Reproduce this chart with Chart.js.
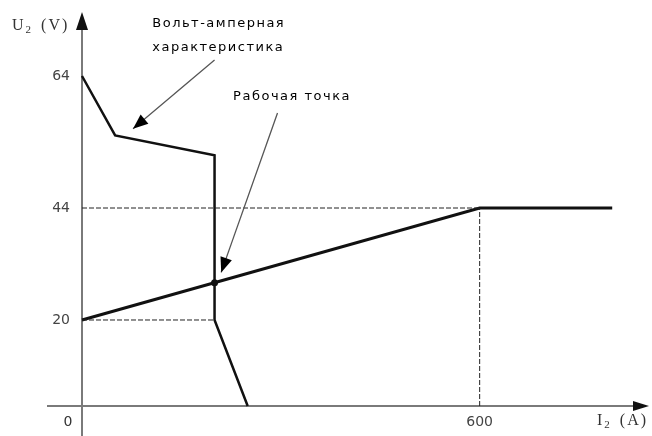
<!DOCTYPE html>
<html>
<head>
<meta charset="utf-8">
<script src="https://cdn.jsdelivr.net/npm/chart.js@4.4.1/dist/chart.umd.min.js"></script>
<style>
  html, body { margin: 0; padding: 0; background: #fff; }
  #wrap { width: 652px; height: 436px; }
</style>
</head>
<body>
<div id="wrap"><canvas id="chart"></canvas></div>
<script>
// volt-ampere characteristic of the source
const vaCurrent = [0, 50, 200, 200, 250]
const vaVoltage = [64, 55, 52, 20, 0]
// load line
const loadCurrent = [0, 600, 800]
const loadVoltage = [20, 44, 44]
// operating point
const workCurrent = [200]
const workVoltage = [28]
// tick labels
const yTicks = [20, 44, 64]
const xTicks = [600]

// the drawing is schematic: voltage axis is not uniform
const warpKnots = [0, 20, 44, 64, 72]
const warpFrac = [0, 0.2183, 0.5025, 0.8376, 1]

const interp = (v, from, to) => {
  for (let i = 1; i < from.length; i++) {
    if (v <= from[i] || i === from.length - 1) {
      const t = (v - from[i - 1]) / (from[i] - from[i - 1])
      return to[i - 1] + t * (to[i] - to[i - 1])
    }
  }
}

class WarpScale extends Chart.LinearScale {
  getPixelForValue(v) { return this.getPixelForDecimal(interp(v, warpKnots, warpFrac)) }
  getValueForPixel(p) { return interp(this.getDecimalForPixel(p), warpFrac, warpKnots) }
}
WarpScale.id = 'warp'
WarpScale.defaults = Chart.LinearScale.defaults
Chart.register(WarpScale)

const pts = (xs, ys) => xs.map((x, i) => ({ x, y: ys[i] }))

const notes = [
  { lines: ['Вольт-амперная', 'характеристика'], at: [106, 70.6], step: 24, from: [200, 66], to: [77, 56] },
  { lines: ['Рабочая точка'], at: [228, 60.9], step: 0, from: [295, 58.4], to: [210, 30.2] },
]

const arrowHead = (ctx, x0, y0, x1, y1, len, half) => {
  const a = Math.atan2(y1 - y0, x1 - x0)
  ctx.beginPath()
  ctx.moveTo(x1, y1)
  ctx.lineTo(x1 - len * Math.cos(a) + half * Math.sin(a), y1 - len * Math.sin(a) - half * Math.cos(a))
  ctx.lineTo(x1 - len * Math.cos(a) - half * Math.sin(a), y1 - len * Math.sin(a) + half * Math.cos(a))
  ctx.closePath()
  ctx.fill()
}

const subText = (ctx, base, sub, rest, x, y, size) => {
  ctx.textAlign = 'left'
  ctx.textBaseline = 'middle'
  ctx.font = size + 'px "Liberation Serif"'
  ctx.fillText(base, x, y)
  x += ctx.measureText(base).width
  ctx.font = Math.round(size * 0.7) + 'px "Liberation Serif"'
  ctx.fillText(sub, x, y + 4)
  x += ctx.measureText(sub).width + 8
  ctx.font = size + 'px "Liberation Serif"'
  ctx.fillText(rest, x, y)
}

const schemePlugin = {
  id: 'scheme',
  beforeDatasetsDraw(chart) {
    const { ctx } = chart
    const xs = chart.scales.x
    const ys = chart.scales.y
    const ox = xs.getPixelForValue(0)
    const oy = ys.getPixelForValue(0)
    ctx.save()
    ctx.strokeStyle = '#7a7a7a'
    ctx.fillStyle = '#111'
    ctx.lineWidth = 2
    ctx.beginPath()
    ctx.moveTo(47, oy)
    ctx.lineTo(xs.right - 6, oy)
    ctx.moveTo(ox, chart.height)
    ctx.lineTo(ox, ys.top + 6)
    ctx.stroke()
    arrowHead(ctx, ox, oy, xs.right + 1, oy, 16, 5)
    arrowHead(ctx, ox, oy, ox, ys.top, 18, 6)
    ctx.restore()
  },
  afterDraw(chart) {
    const { ctx } = chart
    const xs = chart.scales.x
    const ys = chart.scales.y
    const ox = xs.getPixelForValue(0)
    const oy = ys.getPixelForValue(0)
    ctx.save()
    // axis titles and origin
    ctx.fillStyle = '#333'
    ctx.letterSpacing = '2px'
    subText(ctx, 'U', '2', '(V)', 12, 26, 16)
    subText(ctx, 'I', '2', '(A)', 597, 421, 16)
    ctx.letterSpacing = '0px'
    ctx.font = '14px "DejaVu Sans"'
    ctx.textAlign = 'center'
    ctx.fillText('0', ox - 14, oy + 16)
    // notes
    ctx.font = '13px "DejaVu Sans"'
    ctx.letterSpacing = '1.5px'
    ctx.fillStyle = '#000'
    ctx.textAlign = 'left'
    notes.forEach(n => {
      const tx = xs.getPixelForValue(n.at[0])
      const ty = ys.getPixelForValue(n.at[1])
      n.lines.forEach((s, i) => ctx.fillText(s, tx, ty + i * n.step))
      const x0 = xs.getPixelForValue(n.from[0])
      const y0 = ys.getPixelForValue(n.from[1])
      const x1 = xs.getPixelForValue(n.to[0])
      const y1 = ys.getPixelForValue(n.to[1])
      ctx.strokeStyle = '#555'
      ctx.lineWidth = 1.3
      ctx.beginPath()
      ctx.moveTo(x0, y0)
      ctx.lineTo(x1, y1)
      ctx.stroke()
      arrowHead(ctx, x0, y0, x1, y1, 15, 6)
    })
    ctx.restore()
  },
}

const dashed = (data) => ({
  data,
  showLine: true,
  borderColor: '#222',
  borderWidth: 1,
  borderDash: [5, 2],
  pointRadius: 0,
  clip: false,
})

new Chart(document.getElementById('chart'), {
  type: 'scatter',
  data: {
    datasets: [
      dashed([{ x: 0, y: loadVoltage[1] }, { x: loadCurrent[1], y: loadVoltage[1] }]),
      dashed([{ x: 0, y: vaVoltage[3] }, { x: vaCurrent[3], y: vaVoltage[3] }]),
      dashed([{ x: loadCurrent[1], y: 0 }, { x: loadCurrent[1], y: loadVoltage[1] }]),
      {
        label: 'ВАХ',
        data: pts(vaCurrent, vaVoltage),
        showLine: true,
        borderColor: '#111',
        borderWidth: 2.5,
        pointRadius: 0,
        clip: false,
      },
      {
        label: 'Нагрузка',
        data: pts(loadCurrent, loadVoltage),
        showLine: true,
        borderColor: '#111',
        borderWidth: 3,
        pointRadius: 0,
        clip: false,
      },
      {
        label: 'Рабочая точка',
        data: pts(workCurrent, workVoltage),
        pointRadius: 3.5,
        pointBackgroundColor: '#111',
        pointBorderWidth: 0,
        clip: false,
      },
    ],
  },
  options: {
    responsive: true,
    maintainAspectRatio: false,
    animation: false,
    layout: { padding: { top: 12, right: 2, left: 0, bottom: 0 } },
    plugins: { legend: { display: false }, tooltip: { enabled: false } },
    scales: {
      x: {
        type: 'linear',
        min: 0,
        max: 854,
        afterFit: (s) => { s.height = 30; s.paddingLeft = 0; s.paddingRight = 0 },
        afterBuildTicks: (s) => { s.ticks = xTicks.map(value => ({ value })) },
        grid: { display: false, drawTicks: false },
        border: { display: false },
        ticks: { color: '#444', font: { family: 'DejaVu Sans', size: 14 }, padding: 8, maxRotation: 0 },
      },
      y: {
        type: 'warp',
        min: 0,
        max: 72,
        afterFit: (s) => { s.width = 82; s.paddingTop = 0; s.paddingBottom = 0 },
        afterBuildTicks: (s) => { s.ticks = yTicks.map(value => ({ value })) },
        grid: { display: false, drawTicks: false },
        border: { display: false },
        ticks: { color: '#444', font: { family: 'DejaVu Sans', size: 14 }, padding: 12 },
      },
    },
  },
  plugins: [schemePlugin],
})
</script>
</body>
</html>
